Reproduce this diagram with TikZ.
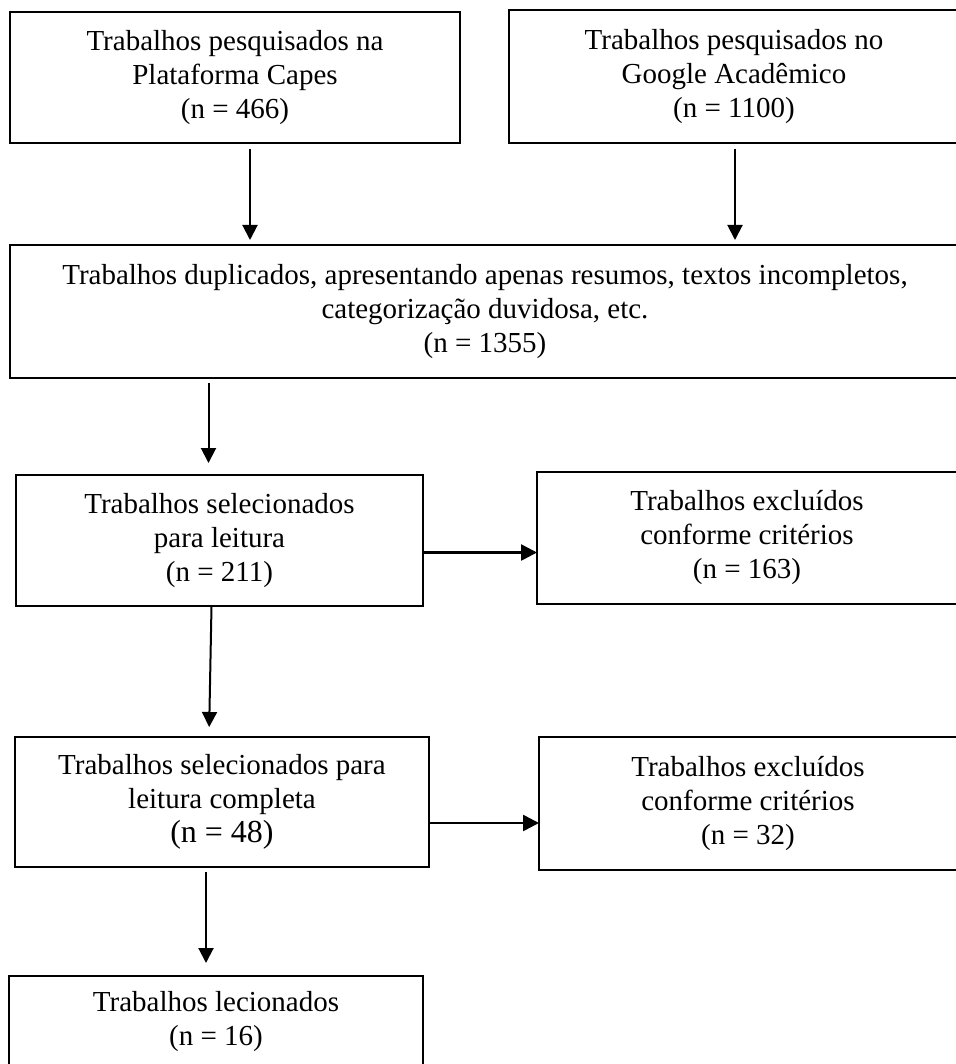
\documentclass[tikz,border=0pt]{standalone}
\usepackage{fontspec}
\setmainfont{Liberation Serif}
\usetikzlibrary{arrows.meta}

\begin{document}
\begin{tikzpicture}[x=1pt, y=-1pt,
	bx/.style={draw, line width=1.6pt, outer sep=0pt, inner sep=0pt, anchor=north west, align=center, font=\fontsize{29}{34}\selectfont},
	arr/.style={-{Triangle[length=15pt,width=15pt]}, line width=2pt},
	harr/.style={-{Triangle[length=16pt,width=16pt]}, line width=2.6pt}]
	\useasboundingbox (0,0) rectangle (955,1064);
	\node[bx, line width=2pt, minimum width=450pt, minimum height=131pt] (capes) at (10,12) {Trabalhos pesquisados na\\Plataforma Capes\\(n = 466)};
	\node[bx, minimum width=450pt, minimum height=133pt] (google) at (509,10) {Trabalhos pesquisados no\\Google Acadêmico\\(n = 1100)};
	\node[bx, minimum width=950pt, minimum height=133pt] (dupl) at (10,245) {Trabalhos duplicados, apresentando apenas resumos, textos incompletos,\\categorização duvidosa, etc.\\(n = 1355)};
	\node[bx, minimum width=407pt, minimum height=131pt] (sel) at (16,475) {Trabalhos selecionados\\para leitura\\(n = 211)};
	\node[bx, minimum width=420pt, minimum height=132pt] (exc1) at (537,472) {Trabalhos excluídos\\conforme critérios\\(n = 163)};
	\node[bx, minimum width=414pt, minimum height=130pt] (comp) at (15,737) {Trabalhos selecionados para\\leitura completa\\{\fontsize{32}{34}\selectfont(n = 48)}};
	\node[bx, minimum width=418pt, minimum height=133pt] (exc2) at (539,737) {Trabalhos excluídos\\conforme critérios\\(n = 32)};
	\node[bx, minimum width=414pt, minimum height=92pt] (lec) at (9,976) {Trabalhos lecionados\\(n = 16)};

	\draw[arr, shorten <=6pt, shorten >=5pt] ([xshift=15pt]capes.south) -- ([xshift=15pt]capes.south |- dupl.north);
	\draw[arr, shorten <=6pt, shorten >=5pt] ([xshift=1pt]google.south) -- ([xshift=1pt]google.south |- dupl.north);
	\draw[arr, shorten <=5pt, shorten >=12pt] ([xshift=-11pt]sel.north |- dupl.south) -- ([xshift=-11pt]sel.north);
	\draw[arr, shorten >=10pt] ([xshift=-8pt]sel.south) -- ([xshift=-13pt]comp.north);
	\draw[arr, shorten <=5pt, shorten >=13pt] ([xshift=-16pt]comp.south) -- ([xshift=-16pt]comp.south |- lec.north);
	\draw[harr] ([yshift=-12pt]sel.east) -- ([yshift=-12pt]sel.east -| exc1.west);
	\draw[harr] ([yshift=-21pt]comp.east) -- ([yshift=-21pt]comp.east -| exc2.west);
\end{tikzpicture}
\end{document}
